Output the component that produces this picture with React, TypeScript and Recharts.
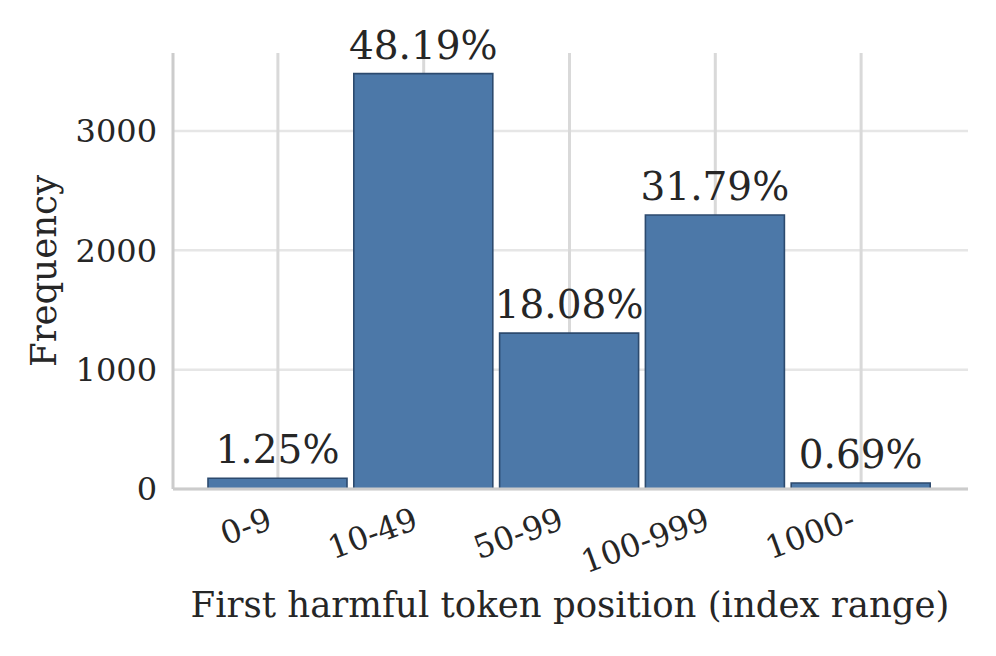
import React from 'react'
import {
  BarChart,
  Bar,
  XAxis,
  YAxis,
  CartesianGrid,
  LabelList,
  Label
} from 'recharts'

const categories = ['0-9', '10-49', '50-99', '100-999', '1000-']
const counts = [90, 3481, 1306, 2296, 50]
const percentLabels = ['1.25%', '48.19%', '18.08%', '31.79%', '0.69%']
const yTicks = [0, 1000, 2000, 3000]

const FONT = '"DejaVu Serif", serif'
const TEXT = '#262626'

const data = categories.map((c, i) => ({
  range: c,
  count: counts[i],
  pct: percentLabels[i]
}))

// rotated category labels, right end pinned under the bar centre
const XTick = ({ x, y, payload }: any) => (
  <g transform={`translate(${x - 4},${y + 39})`}>
    <text
      textAnchor="end"
      transform="rotate(-20)"
      fontFamily={FONT}
      fontSize={32}
      fill={TEXT}
    >
      {payload.value}
    </text>
  </g>
)

const PctLabel = ({ x, y, width, value }: any) => (
  <text
    x={x + width / 2}
    y={y - 15}
    textAnchor="middle"
    fontFamily={FONT}
    fontSize={39}
    fill={TEXT}
  >
    {value}
  </text>
)

export default function App() {
  return (
    <div style={{ position: 'absolute', left: 0, top: 0, width: 996, height: 656, background: '#fff' }}>
      <BarChart
        width={996}
        height={656}
        data={data}
        margin={{ top: 53, right: 28, bottom: 0, left: 73 }}
      >
        {/* horizontal and vertical grid differ a little in tone */}
        <CartesianGrid vertical={false} syncWithTicks stroke="#e6e6e6" strokeWidth={2.5} />
        <CartesianGrid horizontal={false} syncWithTicks stroke="#d9d9d9" strokeWidth={3} />
        <XAxis
          dataKey="range"
          height={167}
          padding={{ left: 32, right: 34 }}
          axisLine={{ stroke: '#cccccc', strokeWidth: 3 }}
          tickLine={false}
          tickSize={0}
          tickMargin={0}
          interval={0}
          tick={<XTick />}
        >
          <Label
            content={() => (
              <text
                x={570}
                y={617}
                textAnchor="middle"
                fontFamily={FONT}
                fontSize={35.5}
                fill={TEXT}
              >
                First harmful token position (index range)
              </text>
            )}
          />
        </XAxis>
        <YAxis
          width={100}
          domain={[0, 3654]}
          ticks={yTicks}
          allowDataOverflow
          axisLine={{ stroke: '#cccccc', strokeWidth: 3 }}
          tickLine={false}
          tickSize={0}
          tickMargin={16}
          tick={{ fontFamily: FONT, fontSize: 32, fill: TEXT }}
        >
          <Label
            content={() => (
              <text
                x={56}
                y={271}
                textAnchor="middle"
                transform="rotate(-90, 56, 271)"
                fontFamily={FONT}
                fontSize={35.5}
                fill={TEXT}
              >
                Frequency
              </text>
            )}
          />
        </YAxis>
        <Bar
          dataKey="count"
          fill="#4c78a8"
          stroke="#2c4a6e"
          strokeWidth={1.6}
          barSize={139}
          isAnimationActive={false}
        >
          <LabelList dataKey="pct" content={<PctLabel />} />
        </Bar>
      </BarChart>
    </div>
  )
}
